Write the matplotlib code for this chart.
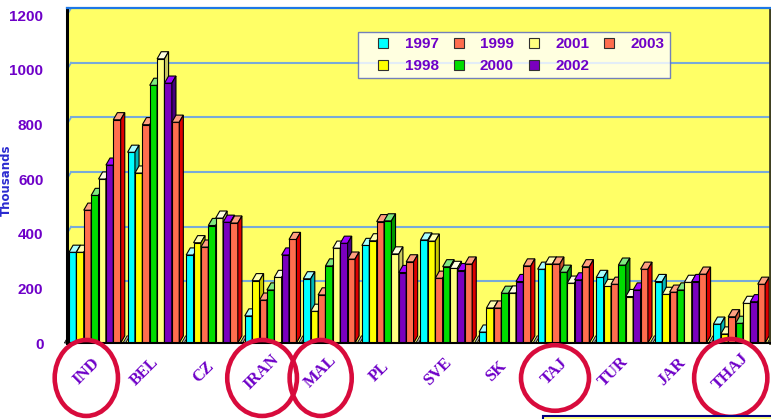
import matplotlib
matplotlib.use("Agg")
import matplotlib.pyplot as plt
from matplotlib.lines import Line2D
from matplotlib.patches import Ellipse, Rectangle
import numpy as np

countries = ["IND", "BEL", "CZ", "IRAN", "MAL", "PL", "SVE", "SK", "TAJ", "TUR", "JAR", "THAJ"]
years = ["1997", "1998", "1999", "2000", "2001", "2002", "2003"]

v1997 = [332, 698, 322, 99, 235, 357, 377, 40, 270, 240, 225, 69]
v1998 = [332, 622, 367, 228, 116, 374, 373, 128, 289, 207, 178, 33]
v1999 = [486, 799, 351, 157, 176, 444, 237, 128, 289, 215, 186, 96]
v2000 = [540, 943, 430, 194, 282, 447, 279, 182, 259, 285, 194, 72]
v2001 = [600, 1040, 457, 240, 347, 326, 273, 183, 219, 170, 222, 145]
v2002 = [651, 951, 442, 322, 365, 258, 265, 225, 231, 194, 225, 151]
v2003 = [817, 808, 439, 379, 307, 297, 289, 282, 279, 270, 252, 215]
series = [v1997, v1998, v1999, v2000, v2001, v2002, v2003]

circled = ["IND", "IRAN", "MAL", "TAJ", "THAJ"]

# front / top / side colours per year
front = ["#00FFFF", "#FFFF00", "#FF6E4E", "#00DD00", "#FFFF80", "#7A00BE", "#FF6E4E"]
top = ["#A8FFFF", "#FFFFB0", "#FFA080", "#80E880", "#FFFFE0", "#A000FF", "#FFA080"]
side = ["#00B8B8", "#C8C800", "#C85030", "#009800", "#C8C860", "#480080", "#DD0000"]

PURPLE = "#6E00C8"
NARROW = ["Liberation Sans Narrow", "Liberation Sans", "DejaVu Sans"]

fig = plt.figure(figsize=(7.71, 4.19), dpi=100)
ax = fig.add_axes([67 / 771, 76 / 419, 703 / 771, 335 / 419])
ax.set_facecolor("#FFFF66")

YMAX = 1200
DY = 26      # depth of the 3D effect, value units
DX = 0.07    # depth of the 3D effect, group units
pitch = 0.126
off = 0.034
ax.set_xlim(0, len(countries))
ax.set_ylim(0, YMAX + DY)

# back wall grid lines
for t in range(200, YMAX + 1, 200):
    ax.plot([0, DX], [t, t + DY], color="#6EA8DC", lw=1.2, zorder=1)
    if t < YMAX:
        ax.plot([DX, len(countries)], [t + DY, t + DY], color="#78AAD8", lw=1.5, zorder=1)

# little floor pieces between groups
for k in range(len(countries) + 1):
    x0 = k - 0.045
    ax.fill([x0, x0 + 0.045, x0 + 0.045 + DX, x0 + DX], [0, 0, DY, DY],
            color="#A8A8A8", ec="black", lw=0.6, zorder=2, clip_on=False)

groups = np.arange(len(countries))
for i, vals in enumerate(series):
    xs = groups + off + i * pitch
    z = 3 + i
    ax.bar(xs, vals, width=pitch, align="edge", color=front[i], edgecolor="black",
           linewidth=0.8, zorder=z)
    for x, v in zip(xs, vals):
        ax.fill([x, x + pitch, x + pitch + DX, x + DX], [v, v, v + DY, v + DY],
                color=top[i], ec="black", lw=0.8, zorder=z)
        ax.fill([x + pitch, x + pitch + DX, x + pitch + DX, x + pitch], [0, DY, v + DY, v],
                color=side[i], ec="black", lw=0.8, zorder=z)

ax.set_yticks(range(0, YMAX + 1, 200))
ax.set_yticklabels([str(t) for t in range(0, YMAX + 1, 200)], family=NARROW,
                   fontsize=11, fontweight="bold", color=PURPLE)
ax.tick_params(axis="y", length=0, pad=17)
ax.set_xticks([])

for name, spine in ax.spines.items():
    spine.set_zorder(20)
ax.spines["left"].set_linewidth(2.2)
ax.spines["left"].set_color("black")
ax.spines["bottom"].set_linewidth(1.5)
ax.spines["bottom"].set_color("black")
ax.spines["right"].set_linewidth(2)
ax.spines["right"].set_color("#404020")
ax.spines["top"].set_linewidth(1.6)
ax.spines["top"].set_color("#1E78E6")

# category labels and the red rings
ring_w = {"IND": 1.08, "IRAN": 1.19, "MAL": 1.06, "TAJ": 1.16, "THAJ": 1.25}
ring_h = {"IND": 278, "IRAN": 278, "MAL": 278, "TAJ": 240, "THAJ": 285}
for k, name in enumerate(countries):
    cx = k + 0.5 - 0.17
    ax.text(cx, -105, name, rotation=45, ha="center", va="center", color=PURPLE,
            family="Liberation Serif", fontweight="bold", fontsize=12, clip_on=False)
    if name in circled:
        ax.add_patch(Ellipse((cx, -128), ring_w[name], ring_h[name], fill=False,
                             ec="#D80B3C", lw=3.3, clip_on=False, zorder=25))

handles = [Line2D([], [], ls="none", marker="s", markersize=7.5, markerfacecolor=front[i],
                  markeredgecolor="#303030", markeredgewidth=0.8) for i in range(len(years))]
leg = ax.legend(handles, years, ncol=4, loc="upper left", bbox_to_anchor=(0.414, 0.928),
                borderaxespad=0, frameon=True, fancybox=False, borderpad=0.35,
                handlelength=2.6, handletextpad=0.1, columnspacing=0.0, labelspacing=0.5,
                prop={"family": NARROW, "weight": "bold", "size": 11})
for txt in leg.get_texts():
    txt.set_color(PURPLE)
leg.get_frame().set_edgecolor("#5060C0")
leg.get_frame().set_linewidth(1.0)
leg.set_zorder(30)

fig.text(0.008, 0.57, "Thousands", rotation=90, ha="center", va="center",
         color="#2A2AD0", fontsize=8.5, fontweight="bold")

fig.patches.append(Rectangle((543 / 771, -0.01), 0.35, 0.018, transform=fig.transFigure,
                             facecolor="#FFFF80", edgecolor="#000080", lw=1.5))

fig.savefig("out.png", dpi=100)
